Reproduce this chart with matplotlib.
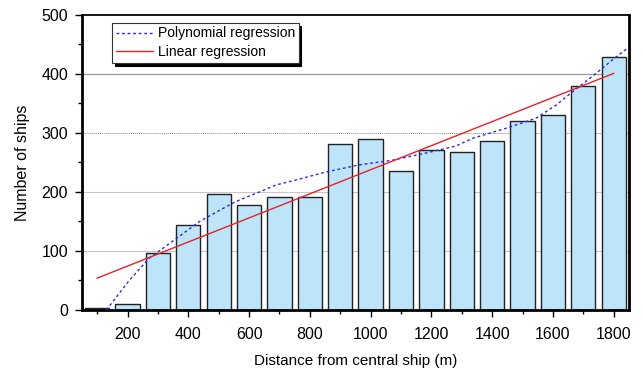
import numpy as np
import matplotlib.pyplot as plt

plt.rcParams['font.family'] = ['Liberation Sans', 'DejaVu Sans']

# bar data
distance = [100, 200, 300, 400, 500, 600, 700, 800, 900,
            1000, 1100, 1200, 1300, 1400, 1500, 1600, 1700, 1800]
ships = [3, 10, 96, 144, 197, 178, 192, 191, 281,
         290, 236, 272, 267, 286, 321, 331, 379, 429]

# polynomial regression curve
poly_x = [130, 207, 272, 360, 437, 503, 557, 634, 689, 744, 854, 963,
          1073, 1182, 1281, 1336, 1446, 1544, 1610, 1665, 1742, 1796, 1846]
poly_y = [0, 51, 88, 121, 150, 169, 184, 200, 212, 219, 234, 246,
          254, 266, 278, 291, 308, 325, 347, 370, 401, 424, 444]

# linear regression end points
lin_x = [100, 1800]
lin_y = [54, 401]

fig = plt.figure(figsize=(6.43, 3.72), dpi=100)
ax = fig.add_axes([0.1275, 0.1667, 0.8505, 0.793])

# grid lines
ax.axhline(100, color='#c8c8c8', lw=0.8, zorder=0)
ax.axhline(200, color='#c8c8c8', lw=0.8, zorder=0)
ax.axhline(300, color='#888888', lw=0.7, ls=(0, (1, 1)), zorder=0)
ax.axhline(400, color='#999999', lw=0.9, zorder=0)

ax.bar(distance, ships, width=80, color='#bde4f8', edgecolor='#222222',
       linewidth=1.0, zorder=2)

ax.plot(poly_x, poly_y, color='#2a2ae0', lw=1.0, ls=(0, (2, 2)), zorder=3,
        label='Polynomial regression')
ax.plot(lin_x, lin_y, color='#e8202a', lw=1.0, zorder=3,
        label='Linear regression')

ax.set_xlim(50, 1850)
ax.set_ylim(0, 500)
ax.set_xticks(range(200, 1801, 200))
ax.set_xticks(range(100, 1801, 200), minor=True)
ax.set_yticks(range(0, 501, 100))
ax.set_yticks(range(50, 500, 100), minor=True)
ax.tick_params(axis='both', which='major', direction='out', length=5,
               width=1.0, labelsize=11.5)
ax.tick_params(axis='x', which='major', pad=7)
ax.tick_params(axis='y', which='major', pad=5)
ax.tick_params(axis='both', which='minor', direction='out', length=3,
               width=1.0)

ax.spines['left'].set_linewidth(2.0)
ax.spines['bottom'].set_linewidth(2.0)
ax.spines['right'].set_linewidth(2.0)
ax.spines['top'].set_linewidth(1.3)

ax.set_xlabel('Distance from central ship (m)', fontsize=11, labelpad=9)
ax.set_ylabel('Number of ships', fontsize=11.5, labelpad=8)

leg = ax.legend(loc='upper left', bbox_to_anchor=(0.055, 0.973), fontsize=10,
                frameon=True, fancybox=False, handlelength=2.7,
                handletextpad=0.35, borderpad=0.25, labelspacing=0.35,
                borderaxespad=0,
                shadow={'color': 'black', 'alpha': 1.0})
leg.get_frame().set_edgecolor('#333333')
leg.get_frame().set_linewidth(0.8)

fig.savefig('out.png', dpi=100)
